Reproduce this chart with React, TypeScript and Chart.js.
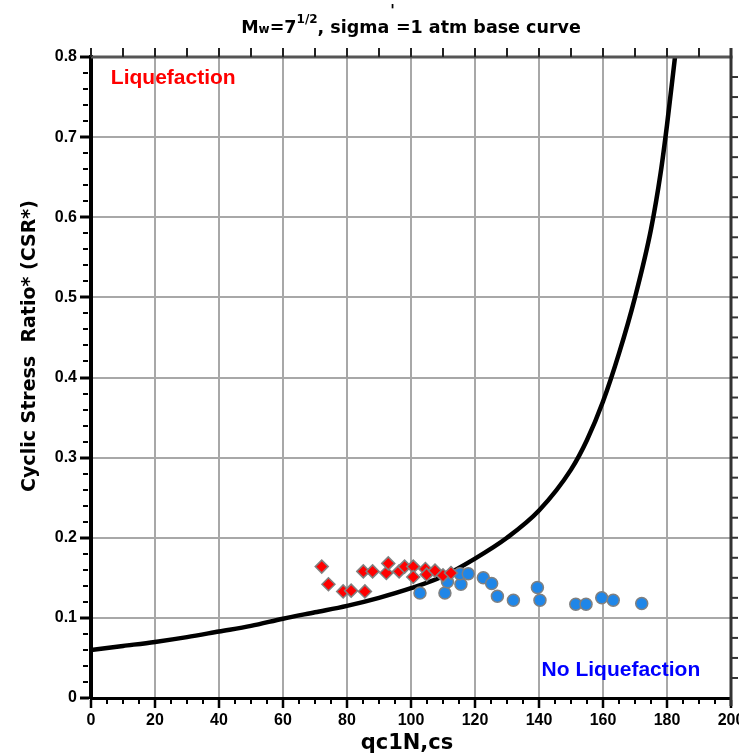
import React, { useEffect, useRef } from "react";
import { Chart, registerables } from "chart.js";

Chart.register(...registerables);

// Base curve, Mw = 7.5, sigma' = 1 atm
const curveQ = [0, 10, 20, 30, 40, 50, 60, 70, 80, 90, 100, 110, 120, 130, 140, 150, 155, 160, 165, 170, 175, 178, 180, 182.5];
const curveCSR = [0.06, 0.065, 0.07, 0.076, 0.083, 0.09, 0.099, 0.107, 0.115, 0.125, 0.137, 0.152, 0.174, 0.2, 0.234, 0.285, 0.322, 0.37, 0.43, 0.5, 0.585, 0.655, 0.715, 0.8];

// Case histories with observed liquefaction
const liqQ = [72.1, 74.2, 78.8, 81.3, 85.6, 85.1, 88.0, 92.3, 92.9, 96.3, 98.0, 100.7, 100.7, 104.5, 104.9, 107.5, 110.0, 112.5];
const liqCSR = [0.164, 0.142, 0.133, 0.134, 0.133, 0.158, 0.158, 0.156, 0.168, 0.158, 0.164, 0.164, 0.151, 0.161, 0.154, 0.159, 0.153, 0.156];

// Case histories without liquefaction
const noLiqQ = [102.8, 110.6, 111.4, 115.6, 115.3, 117.9, 122.6, 125.2, 127.0, 132.0, 139.5, 140.3, 151.5, 154.7, 159.6, 163.2, 172.1];
const noLiqCSR = [0.131, 0.131, 0.145, 0.142, 0.155, 0.155, 0.15, 0.143, 0.127, 0.122, 0.138, 0.122, 0.117, 0.117, 0.125, 0.122, 0.118];

const xTicks = [0, 20, 40, 60, 80, 100, 120, 140, 160, 180, 200];
const yTicks = [0, 0.1, 0.2, 0.3, 0.4, 0.5, 0.6, 0.7, 0.8];

const xTitle = "qc1N,cs";
const yTitle = "Cyclic Stress  Ratio* (CSR*)";

const W = 739;
const H = 753;
const FONT = "'Liberation Sans', Arial, sans-serif";
const WIDE = "'DejaVu Sans', Verdana, sans-serif";

const pairs = (xs: number[], ys: number[]) => xs.map((x, i) => ({ x, y: ys[i] }));

const decorPlugin = {
  id: "decor",
  afterDraw(chart: any) {
    const ctx = chart.ctx as CanvasRenderingContext2D;
    const xs = chart.scales.x;
    const ys = chart.scales.y;
    const { left, right, top, bottom } = chart.chartArea;
    ctx.save();

    // minor ticks, left axis
    ctx.strokeStyle = "#000";
    ctx.lineWidth = 2;
    for (let i = 0; i <= 40; i++) {
      if (i % 5 === 0) continue;
      const y = Math.round(ys.getPixelForValue(i * 0.02));
      ctx.beginPath();
      ctx.moveTo(left - 8, y);
      ctx.lineTo(left - 3, y);
      ctx.stroke();
    }
    // minor ticks, bottom axis
    for (let v = 0; v <= 200; v += 5) {
      if (v % 20 === 0) continue;
      const x = xs.getPixelForValue(v);
      ctx.beginPath();
      ctx.moveTo(x, bottom + 1);
      ctx.lineTo(x, bottom + 6);
      ctx.stroke();
    }

    // top frame and ticks
    ctx.strokeStyle = "#555";
    ctx.lineWidth = 3;
    ctx.beginPath();
    ctx.moveTo(left, top);
    ctx.lineTo(right + 1.5, top);
    ctx.stroke();
    ctx.strokeStyle = "#222";
    ctx.lineWidth = 2;
    for (let v = 0; v <= 200; v += 10) {
      const x = xs.getPixelForValue(v);
      ctx.beginPath();
      ctx.moveTo(x, top);
      ctx.lineTo(x, top - 9);
      ctx.stroke();
    }

    // right frame and ticks
    ctx.strokeStyle = "#333";
    ctx.lineWidth = 3;
    ctx.beginPath();
    ctx.moveTo(right, top - 9);
    ctx.lineTo(right, bottom + 8);
    ctx.stroke();
    ctx.lineWidth = 2;
    for (let i = 1; i < 32; i++) {
      const y = ys.getPixelForValue(i * 0.025);
      ctx.beginPath();
      ctx.moveTo(right, y);
      ctx.lineTo(right + 7, y);
      ctx.stroke();
    }

    // region labels
    ctx.textBaseline = "middle";
    ctx.textAlign = "left";
    ctx.font = `bold 21px ${FONT}`;
    ctx.fillStyle = "#ff0000";
    ctx.fillText("Liquefaction", xs.getPixelForValue(6.2), ys.getPixelForValue(0.774));
    ctx.fillStyle = "#0000ff";
    ctx.fillText("No Liquefaction", xs.getPixelForValue(140.8), ys.getPixelForValue(0.035));

    // axis titles
    ctx.fillStyle = "#000";
    ctx.textAlign = "center";
    ctx.textBaseline = "alphabetic";
    ctx.font = `bold 21px ${WIDE}`;
    ctx.fillText(xTitle, (left + right) / 2 - 4, 749);
    ctx.save();
    ctx.translate(35, 346);
    ctx.rotate(-Math.PI / 2);
    ctx.font = `bold 19px ${WIDE}`;
    ctx.fillText(yTitle, 0, 0);
    ctx.restore();

    // chart title with subscript / superscripts
    const big = 17.5;
    const small = 12;
    const parts: [string, number, number, number][] = [
      ["M", big, 0, 0],
      ["w", small, 0, 0],
      ["=7", big, 0, 0],
      ["1/2", small, -10, 0],
      [", sigma", big, 0, 0],
      ["'", 15, -17, 1],
      ["=1 atm base curve", big, 0, 0],
    ];
    let total = 0;
    for (const [t, s, , pad] of parts) {
      ctx.font = `bold ${s}px ${WIDE}`;
      total += ctx.measureText(t).width + 2 * pad;
    }
    let x = (left + right) / 2 - total / 2;
    const base = 33;
    ctx.textAlign = "left";
    for (const [t, s, dy, pad] of parts) {
      ctx.font = `bold ${s}px ${WIDE}`;
      x += pad;
      ctx.fillText(t, x, base + dy);
      x += ctx.measureText(t).width + pad;
    }
    ctx.restore();
  },
};

export default function App() {
  const ref = useRef<HTMLCanvasElement>(null);

  useEffect(() => {
    const canvas = ref.current;
    if (!canvas) return;
    const tickFont = { family: FONT, size: 16, weight: "bold" as const };
    const chart = new Chart(canvas, {
      type: "scatter",
      data: {
        datasets: [
          {
            type: "line",
            label: "base curve",
            data: pairs(curveQ, curveCSR),
            borderColor: "#000",
            borderWidth: 4.5,
            pointRadius: 0,
            cubicInterpolationMode: "monotone",
            fill: false,
            order: 3,
          } as any,
          {
            label: "No Liquefaction",
            data: pairs(noLiqQ, noLiqCSR),
            pointStyle: "circle",
            pointRadius: 6,
            backgroundColor: "#1f86e8",
            borderColor: "#808080",
            borderWidth: 1.5,
            order: 2,
          },
          {
            label: "Liquefaction",
            data: pairs(liqQ, liqCSR),
            pointStyle: "rectRot",
            pointRadius: 6.5,
            backgroundColor: "#ff0000",
            borderColor: "#808080",
            borderWidth: 1.5,
            order: 1,
          },
        ],
      },
      options: {
        animation: false,
        responsive: false,
        devicePixelRatio: 1,
        layout: { padding: { left: 0, top: 57, right: 8, bottom: 0 } },
        plugins: {
          legend: { display: false },
          title: { display: false },
          tooltip: { enabled: false },
        },
        scales: {
          x: {
            type: "linear",
            min: 0,
            max: 200,
            afterBuildTicks: (s: any) => {
              s.ticks = xTicks.map((v) => ({ value: v }));
            },
            ticks: {
              color: "#000",
              font: tickFont,
              padding: 3,
              maxRotation: 0,
              autoSkip: false,
            },
            grid: {
              color: "#a8a8a8",
              lineWidth: 2,
              tickColor: "#000",
              tickLength: 10,
              tickWidth: 2.5,
            },
            border: { color: "#000", width: 3 },
            afterFit: (s: any) => {
              s.height = H - 698;
              s.paddingLeft = 0;
              s.paddingRight = 0;
            },
          },
          y: {
            type: "linear",
            min: 0,
            max: 0.8,
            afterBuildTicks: (s: any) => {
              s.ticks = yTicks.map((v) => ({ value: v }));
            },
            ticks: {
              color: "#000",
              font: tickFont,
              padding: 3,
              autoSkip: false,
              callback: (v: any) => String(Math.round(Number(v) * 10) / 10),
            },
            grid: {
              color: "#a8a8a8",
              lineWidth: 2,
              tickColor: "#000",
              tickLength: 11,
              tickWidth: 3,
            },
            border: { color: "#000", width: 4 },
            afterFit: (s: any) => {
              s.width = 91;
              s.paddingTop = 0;
              s.paddingBottom = 0;
            },
          },
        },
      },
      plugins: [decorPlugin],
    });
    return () => chart.destroy();
  }, []);

  return (
    <div style={{ position: "fixed", left: 0, top: 0, width: W, height: H, background: "#fff" }}>
      <canvas ref={ref} width={W} height={H} style={{ width: W, height: H, display: "block" }} />
    </div>
  );
}
